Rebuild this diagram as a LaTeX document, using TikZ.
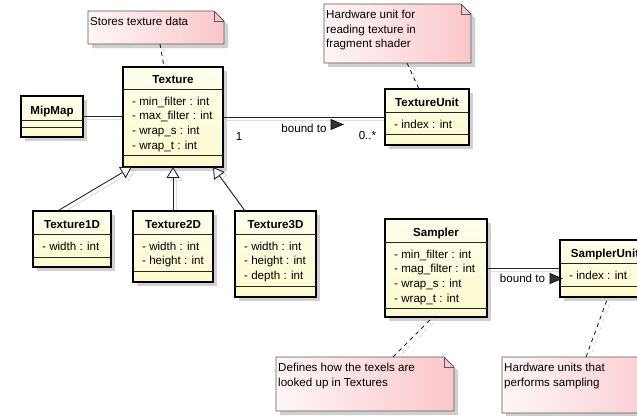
\documentclass[tikz,border=0pt]{standalone}
\usepackage{fontspec}
\setmainfont{Liberation Sans}
\usetikzlibrary{arrows.meta,calc,backgrounds}
\definecolor{clstop}{RGB}{255,255,238}
\definecolor{clsbot}{RGB}{252,250,204}
\definecolor{noteleft}{RGB}{255,246,246}
\definecolor{noteright}{RGB}{250,198,202}
\definecolor{shadowc}{RGB}{208,208,208}
\tikzset{
  clsbox/.style={draw=black, line width=1.4pt, top color=clstop, bottom color=clsbot, inner sep=0pt, outer sep=0pt},
  sepline/.style={draw=black!85, line width=0.9pt},
  clsname/.style={font=\fontsize{11.6}{14}\selectfont\bfseries, inner sep=0pt, anchor=base},
  attr/.style={font=\fontsize{11.6}{14}\selectfont, inner sep=0pt, anchor=base west},
  notebody/.style={draw=black!65, line width=0.8pt, left color=noteleft, right color=noteright},
  notefold/.style={draw=black!65, line width=0.8pt},
  boxshadow/.style={fill=shadowc},
  assoc/.style={draw=black!85, line width=0.9pt},
  gen/.style={assoc, -{Triangle[width=13pt,length=11pt,fill=white]}},
  anchorline/.style={draw=black!85, line width=0.9pt, dash pattern=on 4pt off 4pt},
  connshadow/.style={draw=black!13, transform canvas={shift={(3pt,-3pt)}}},
  lbl/.style={font=\fontsize{11.6}{14}\selectfont, inner sep=0pt, anchor=base},
  dirtri/.style={fill=black!80, draw=black, line width=0.6pt},
}
\newcommand{\umlcls}[9]{%
  \fill[boxshadow] (#2+4,#3+4) rectangle (#4+4,#5+4);
  \node[clsbox, minimum width={(#4-#2)*1pt}, minimum height={(#5-#3)*1pt}, anchor=north west] (#1) at (#2,#3) {};
  \draw[sepline] (#2,#6) -- (#4,#6);
  \draw[sepline] (#2,#7) -- (#4,#7);
  \node[clsname] (#1-name) at ({(#2+#4)/2},#6-6) {#8};
  \foreach \a [count=\i from 0] in {#9} {\node[attr] (#1-a\i) at (#2+9,#6+16+\i*14.8) {\a};}
}
\newcommand{\umlnote}[6]{%
  \fill[boxshadow] (#2+4,#3+4) -- (#4-6,#3+4) -- (#4+4,#3+14) -- (#4+4,#5+4) -- (#2+4,#5+4) -- cycle;
  \node[inner sep=0pt, outer sep=0pt, minimum width={(#4-#2)*1pt}, minimum height={(#5-#3)*1pt}, anchor=north west] (#1) at (#2,#3) {};
  \path[notebody] (#2,#3) -- (#4-10,#3) -- (#4,#3+10) -- (#4,#5) -- (#2,#5) -- cycle;
  \draw[notefold] (#4-10,#3) -- (#4-10,#3+10) -- (#4,#3+10);
  \foreach \l [count=\i from 0] in {#6} {\node[attr] (#1-l\i) at (#2+2,#3+14.5+\i*14.5) {\l};}
}
\newcommand{\conn}[2]{%
  \begin{pgfonlayer}{background}\draw[#1,connshadow] #2;\end{pgfonlayer}
  \draw[#1] #2;
}
\begin{document}
\begin{tikzpicture}[x=1pt,y=-1pt]
\useasboundingbox (0,0) rectangle (637,415);
\begin{pgfonlayer}{background}
\fill[white] (0,0) rectangle (637,415);
\end{pgfonlayer}
\clip (0,0) rectangle (637,415);

% notes
\umlnote{n1}{88}{11}{224}{44}{Stores texture data}
\umlnote{n2}{324}{4}{471}{63}{Hardware unit for,reading texture in,fragment shader}
\umlnote{n3}{276}{357}{454}{411}{Defines how the texels are,looked up in Textures}
\umlnote{n4}{502}{357}{680}{413}{Hardware units that,performs sampling}

% classes
\umlcls{tex}{123}{67}{223}{167}{89}{155}{Texture}{- min\_filter : int,- max\_filter : int,- wrap\_s : int,- wrap\_t : int}
\umlcls{mip}{21}{96}{83}{137}{120}{127}{MipMap}{}
\umlcls{tu}{385}{89}{469}{145}{112}{134}{TextureUnit}{- index : int}
\umlcls{t1}{33}{211}{111}{267}{234}{257}{Texture1D}{- width : int}
\umlcls{t2}{133}{211}{213}{282}{234}{271}{Texture2D}{- width : int,- height : int}
\umlcls{t3}{235}{211}{316}{297}{234}{286}{Texture3D}{- width : int,- height : int,- depth : int}
\umlcls{s}{385}{219}{487}{317}{242}{308}{Sampler}{- min\_filter : int,- mag\_filter : int,- wrap\_s : int,- wrap\_t : int}
\umlcls{su}{560}{240}{650}{297}{263}{286}{SamplerUnit}{- index : int}

% associations
\conn{assoc}{(mip.east) -- (mip.east -| tex.west)}
\conn{assoc}{(tex.east) -- (tex.east -| tu.west)}
\conn{assoc}{(s.east) -- (s.east -| su.west)}

% generalizations
\conn{gen}{([xshift=-14.5pt]t1.north) -- ([xshift=-41.3pt]tex.south)}
\conn{gen}{(t2.north) -- (tex.south)}
\conn{gen}{([xshift=-30.5pt]t3.north) -- ([xshift=40pt]tex.south)}

% note anchors
\conn{anchorline}{([xshift=4pt]n1.south) -- ([xshift=-9pt]tex.north)}
\conn{anchorline}{([xshift=9.5pt]n2.south) -- ([xshift=-8pt]tu.north)}
\conn{anchorline}{([xshift=28pt]n3.north) -- ([xshift=-3pt]s.south)}
\conn{anchorline}{([xshift=-5pt]n4.north) -- ([xshift=3pt]su.south)}

% labels
\node[lbl] (m1) at (239,140) {1};
\node[lbl] (bt1) at (304,132) {bound to};
\node[lbl] (m2) at (367.5,139) {0..*};
\draw[dirtri] (331,119.5) -- (343,124.5) -- (331,129.5) -- cycle;
\node[lbl] (bt2) at (522.5,282) {bound to};
\draw[dirtri] (550,273.5) -- (562,278.5) -- (550,283.5) -- cycle;
\end{tikzpicture}
\end{document}
